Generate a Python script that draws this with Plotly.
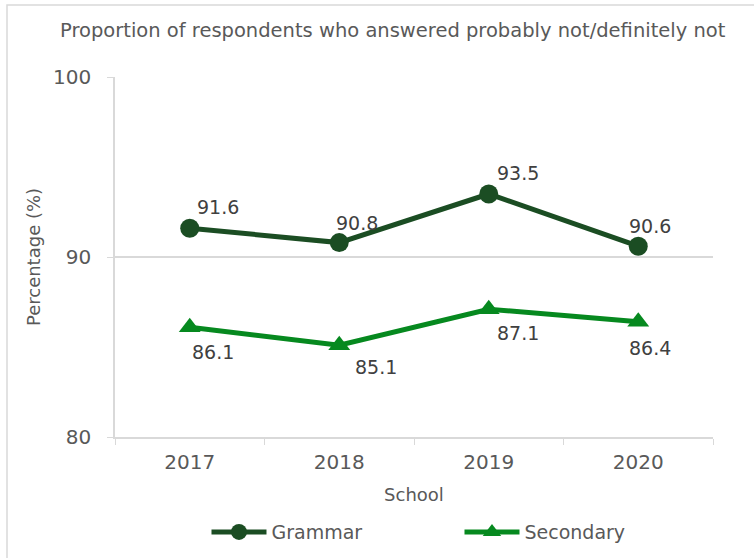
import plotly.graph_objects as go

years = ["2017", "2018", "2019", "2020"]
grammar = [91.6, 90.8, 93.5, 90.6]
secondary = [86.1, 85.1, 87.1, 86.4]
y_ticks = [80, 90, 100]

title_text = "Proportion of respondents who answered probably not/definitely not"
x_title = "School"
y_title = "Percentage (%)"

grammar_color = "#1b4d23"
secondary_color = "#06891f"
text_color = "#595959"
grid_color = "#d9d9d9"
font_family = "'DejaVu Sans', sans-serif"

fig = go.Figure()
fig.add_trace(go.Scatter(
    x=years, y=grammar, name="Grammar", mode="lines+markers",
    line=dict(color=grammar_color, width=5),
    marker=dict(symbol="circle", size=19, color=grammar_color),
))
fig.add_trace(go.Scatter(
    x=years, y=secondary, name="Secondary", mode="lines+markers",
    line=dict(color=secondary_color, width=5),
    marker=dict(symbol="triangle-up", size=19, color=secondary_color),
))

# value labels, nudged off the markers (x given as category index)
g_shift = [(28, 21), (18, 20), (29, 21), (12, 20)]
s_shift = [(23, -25), (37, -22), (29, -24), (12, -26)]
for vals, shifts in ((grammar, g_shift), (secondary, s_shift)):
    for i, (v, (dx, dy)) in enumerate(zip(vals, shifts)):
        fig.add_annotation(
            x=i, y=v, xref="x", yref="y", text=f"{v:.1f}", showarrow=False,
            xshift=dx, yshift=dy,
            font=dict(size=19, color="#404040", family=font_family),
        )

fig.add_annotation(
    xref="paper", yref="paper", x=-0.095, y=1.13,
    xanchor="left", yanchor="middle", showarrow=False,
    text=title_text,
    font=dict(size=19.5, color=text_color, family=font_family),
)

# chart frame
fig.add_shape(
    type="rect", xref="paper", yref="paper",
    x0=-0.1806, x1=1.12, y0=-0.4, y1=1.2,
    line=dict(color="#d9d9d9", width=1.5), fillcolor="rgba(0,0,0,0)", layer="below",
)

fig.update_layout(
    width=754, height=558,
    margin=dict(l=115, r=41, t=77, b=121, autoexpand=False),
    paper_bgcolor="white", plot_bgcolor="white",
    font=dict(family=font_family, color=text_color),
    showlegend=True,
    legend=dict(
        orientation="h", x=0.153, xanchor="left", y=-0.264, yanchor="middle",
        font=dict(size=19, color=text_color), bgcolor="rgba(0,0,0,0)",
        itemwidth=55,
        traceorder="normal", entrywidthmode="pixels", entrywidth=183,
    ),
    xaxis=dict(
        type="category", range=[-0.5, 3.5], automargin=False,
        showline=True, linecolor=grid_color, linewidth=1.5,
        ticks="outside", tickson="boundaries", ticklen=6, tickcolor=grid_color,
        ticklabelstandoff=6,
        tickfont=dict(size=20, color=text_color),
        title=dict(text=x_title, font=dict(size=18, color=text_color), standoff=16),
        showgrid=False, zeroline=False,
    ),
    yaxis=dict(
        range=[80, 100], tickvals=y_ticks, automargin=False,
        showline=True, linecolor=grid_color, linewidth=1.5,
        ticks="outside", ticklen=6, tickcolor=grid_color,
        ticklabelstandoff=12,
        showgrid=True, gridcolor=grid_color, gridwidth=1.5,
        tickfont=dict(size=20, color=text_color),
        title=dict(text=y_title, font=dict(size=18, color=text_color), standoff=8),
        zeroline=False,
    ),
)

fig.write_html("out.html")
